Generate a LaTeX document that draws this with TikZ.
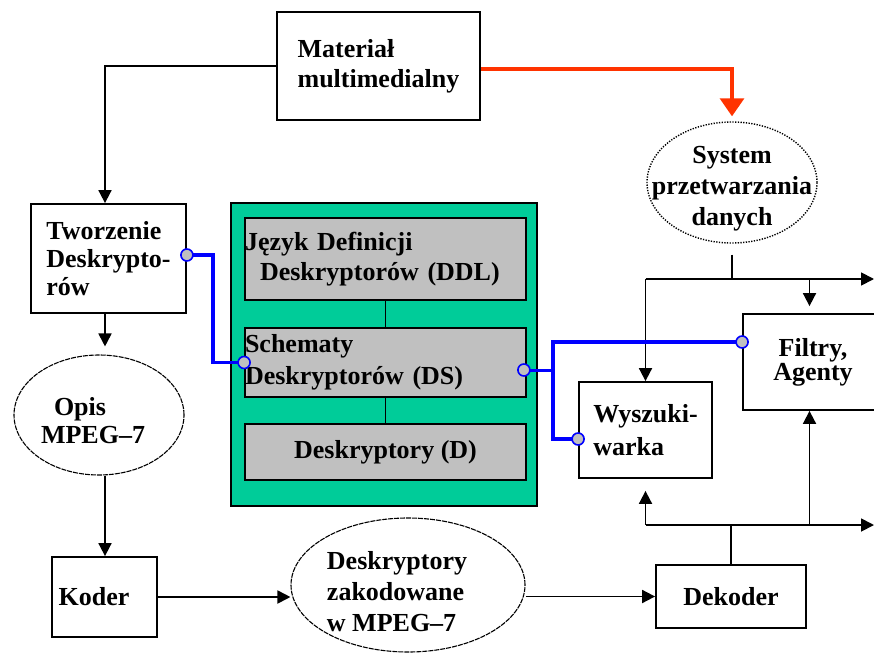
\documentclass[tikz,border=0pt]{standalone}
\usepackage{fontspec}
\setmainfont{Liberation Serif}
\usetikzlibrary{arrows.meta,shapes.geometric,calc}
\definecolor{panelgreen}{RGB}{0,204,153}
\definecolor{layergray}{RGB}{192,192,192}
\definecolor{feedred}{RGB}{255,51,0}
\definecolor{linkblue}{RGB}{0,0,255}
\begin{document}
\begin{tikzpicture}[x=1pt,y=-1pt,
  txtlead/.style={font=\bfseries\fontsize{26}{#1}\selectfont},
  every node/.style={txtlead=29, inner sep=0pt},
  box/.style={draw, line width=1.8pt, fill=white, rectangle},
  layer/.style={draw, line width=1.8pt, fill=layergray, minimum width=281pt},
  oval/.style={draw, ellipse, line width=1.1pt, dash pattern=on 5pt off 1pt},
  dotoval/.style={draw, ellipse, line width=1.4pt, dash pattern=on 1.3pt off 1.4pt},
  flow/.style={line width=1.8pt, -{Triangle[width=13pt,length=13pt]}},
  wire/.style={line width=1.8pt},
  trunk/.style={line width=2.8pt},
  link/.style={draw=linkblue, line width=3.8pt},
  port/.style={circle, draw=linkblue, fill=layergray, line width=1.6pt, minimum size=12pt}
]
\useasboundingbox (0,0) rectangle (874,655);

% source material
\node[box, minimum width=203pt, minimum height=108pt, align=left, txtlead=30] (mat) at (378.5,66) {Materiał\\ multimedialny};

% descriptor creation
\node[box, minimum width=155pt, minimum height=109pt, align=left, txtlead=28] (tw) at (108.5,258.5) {Tworzenie\\ Deskrypto-\\ rów};

% MPEG-7 layers on the green panel
\node[draw, line width=1.8pt, fill=panelgreen, minimum width=306pt, minimum height=303pt] (panel) at (384,354.5) {};
\node[layer, minimum height=82pt, text width=281pt, align=left, txtlead=30] (ddl) at (385.5,259) {Język Definicji\\ \hspace*{15pt}Deskryptorów (DDL)};
\node[layer, minimum height=69pt, text width=281pt, align=left, txtlead=32] (ds) at (385.5,362.5) {Schematy\\ Deskryptorów (DS)};
\node[layer, minimum height=56pt] (dd) at (385.5,452) {Deskryptory (D)};
\draw[wire] (ddl.south) -- (ds.north);
\draw[wire] (ds.south) -- (dd.north);

% processing system
\node[dotoval, minimum width=170pt, minimum height=121pt] (sys) at (732,182.5) {};
\node[align=center, txtlead=31] (sysT) at (732,189) {System\\ przetwarzania\\ danych};

% search engine and filters
\node[box, minimum width=133pt, minimum height=96pt, align=left, txtlead=33] (wy) at (645.5,430) {Wyszuki-\\ warka};
\node[box, minimum width=133pt, minimum height=96pt, align=center, txtlead=22] (fil) at (809.5,362) {\hspace*{7pt}Filtry,\\ \hspace*{7pt}Agenty};

% description, coder, coded descriptors, decoder
\node[oval, minimum width=170pt, minimum height=120pt] (opis) at (99,415) {};
\node[align=left, txtlead=28] (opisT) at (93,421) {\hspace*{13pt}Opis\\ MPEG–7};
\node[box, minimum width=105pt, minimum height=80pt] (koder) at (104.5,597) {Koder\hspace*{21pt}};
\node[oval, minimum width=234pt, minimum height=134pt] (enc) at (408,585) {};
\node[align=left, txtlead=31] (encT) at (397,592) {Deskryptory\\ zakodowane\\ w MPEG–7};
\node[box, minimum width=150pt, minimum height=63pt] (dek) at (731,596.5) {Dekoder};

% left column of the flow
\coordinate (colL) at (105,0);
\draw[flow] (mat.west) -| (tw.north -| colL);
\draw[flow, shorten >=8pt] (tw.south -| colL) -- (opis.north -| colL);
\draw[flow] (opis.south -| colL) -- (koder.north -| colL);
\draw[flow] (koder.east) -- (enc.west |- koder.east);
\draw[flow] (enc.east |- dek.west) -- (dek.west);

% material to processing system
\draw[draw=feedred, line width=3.2pt, -{Triangle[width=24pt,length=18pt]}, shorten >=5pt] ([yshift=-3pt]mat.east) -| (sys.north);

% upper distribution bus
\coordinate (busT) at (sys.south |- 0,279);
\coordinate (busTL) at (wy.north |- busT);
\coordinate (busTR) at (874,279);
\draw[trunk, shorten <=11pt] (sys.south) -- (busT);
\draw[flow] (busTL) -- (busTR);
\draw[flow] (busTL) -- (wy.north);
\draw[flow, shorten >=7pt] (fil.north |- busT) -- (fil.north);

% lower distribution bus
\coordinate (busB) at (dek.north |- 0,525);
\coordinate (busBL) at (wy.south |- busB);
\coordinate (busBR) at (874,525);
\draw[trunk] (dek.north) -- (busB);
\draw[flow] (busBL) -- (busBR);
\draw[flow, shorten >=12pt] (busBL) -- (wy.south);
\draw[flow] (fil.south |- busB) -- (fil.south);

% blue links between descriptor schemes and tools
\coordinate (twP) at ([yshift=3.5pt]tw.east);
\coordinate (dsL) at (ds.west);
\coordinate (dsR) at ([xshift=-3pt,yshift=-7.5pt]ds.east);
\coordinate (hub) at ($(dsR)+(29,0)$);
\coordinate (filP) at ([yshift=20pt]fil.west);
\coordinate (wyP) at ([yshift=-9pt]wy.west);
\draw[link] (twP) -- ++(26,0) |- (dsL);
\draw[link, line width=3pt] (dsR) -- (hub);
\draw[link] (filP) -| (hub) |- (wyP);
\node[port] (p1) at (twP) {};
\node[port] (p2) at (dsL) {};
\node[port] (p3) at (dsR) {};
\node[port] (p4) at (filP) {};
\node[port] (p5) at (wyP) {};
\end{tikzpicture}
\end{document}
